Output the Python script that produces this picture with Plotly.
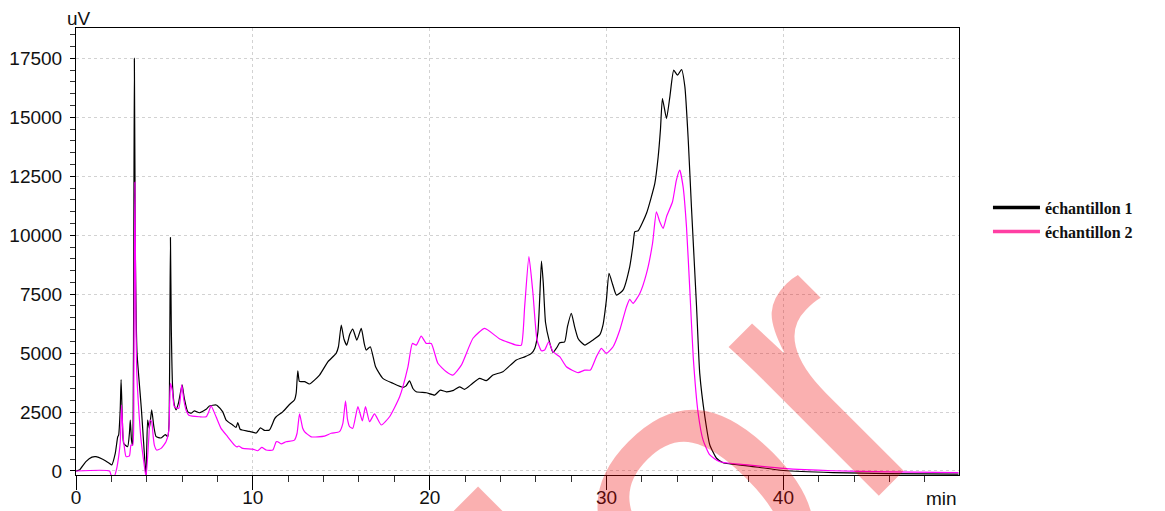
import plotly.graph_objects as go

# Retention times (min) and detector signal (uV) for each sample
t1 = [0.0, 0.19, 0.56, 0.9, 1.13, 1.51, 1.88, 2.02, 2.22, 2.36, 2.41, 2.5, 2.55, 2.62, 2.7, 2.92,
      3.02, 3.07, 3.14, 3.2, 3.25, 3.3, 3.36, 3.45, 3.55, 3.7, 3.85, 3.96, 4.05, 4.15, 4.28, 4.4,
      4.53, 4.81, 5.05, 5.19, 5.26, 5.3, 5.34, 5.39, 5.46, 5.56, 5.66, 5.8, 6.0, 6.12, 6.32, 6.51,
      6.69, 6.98, 7.36, 7.54, 7.92, 8.01, 8.3, 8.49, 8.86, 9.05, 9.15, 9.28, 9.39, 9.81, 10.19,
      10.43, 10.66, 10.94, 11.22, 11.32, 11.69, 12.07, 12.35, 12.45, 12.54, 12.63, 12.73, 12.93,
      13.2, 13.77, 14.24, 14.71, 14.84, 15.0, 15.15, 15.31, 15.48, 15.65, 15.88, 16.13, 16.3,
      16.41, 16.64, 16.94, 17.35, 17.92, 18.48, 18.65, 18.86, 19.05, 19.24, 19.81, 20.28, 20.6,
      20.94, 21.35, 21.69, 21.97, 22.4, 22.82, 23.2, 23.58, 24.14, 24.9, 25.4, 25.75, 25.94,
      26.12, 26.22, 26.32, 26.42, 26.55, 26.75, 26.97, 27.2, 27.35, 27.63, 27.79, 28.01, 28.2,
      28.39, 28.58, 28.77, 29.24, 29.61, 29.8, 29.99, 30.14, 30.35, 30.56, 30.93, 31.31, 31.5,
      31.6, 31.79, 32.26, 32.73, 32.92, 33.05, 33.16, 33.39, 33.58, 33.8, 34.01, 34.24, 34.43,
      34.62, 34.8, 35.09, 35.27, 35.56, 35.84, 36.22, 36.59, 38.1, 40.0, 42.8, 46.0, 49.9]
s1 = [0, 40, 400, 590, 610, 500, 330, 260, 750, 1450, 1520, 2600, 3880, 2200, 1170, 1030,
      1600, 2160, 1300, 1100, 5000, 17500, 9000, 5000, 4000, 2600, 900, -260, 2160, 1810, 2590, 1900,
      1455, 1400, 1540, 1455, 2000, 5000, 9900, 6000, 3600, 2800, 2590, 2900, 3650, 3100, 2510, 2450,
      2550, 2470, 2620, 2760, 2800, 2760, 2510, 2160, 1950, 1850, 2050, 1770, 1740, 1680, 1610,
      1830, 1720, 1740, 2200, 2300, 2510, 2820, 3010, 3300, 4250, 3800, 3790, 3790,
      3690, 4070, 4630, 4990, 5270, 6190, 5600, 5340, 5800, 6020, 5550, 6050, 5400,
      5130, 5270, 4420, 3930, 3720, 3550, 3600, 3820, 3500, 3360, 3320, 3220, 3430,
      3360, 3420, 3570, 3460, 3700, 3930, 3830, 4070, 4210, 4710, 4850, 4990, 5200,
      5900, 7300, 8900, 8000, 6300, 5550, 5030, 5250, 5440, 5480, 6120, 6690, 6100,
      5620, 5450, 5340, 5560, 5770, 6200, 7250, 8380, 7900, 7460, 7670, 8660, 9600,
      10150, 10190, 10930, 12200, 13330, 14500, 15800, 14950, 15870, 17000, 16790, 17030, 16290,
      14030, 11210, 6970, 4140, 2300, 1100, 540, 350, 210, 20, -70, -110, -130]

t2 = [0.0, 1.9, 1.98, 2.17, 2.3, 2.41, 2.5, 2.58, 2.66, 2.73, 2.83, 3.02, 3.11, 3.21, 3.27, 3.33,
      3.38, 3.43, 3.55, 3.68, 3.85, 3.96, 4.11, 4.19, 4.28, 4.36, 4.43, 4.56, 4.81, 5.09, 5.24,
      5.3, 5.34, 5.45, 5.56, 5.81, 5.98, 6.1, 6.22, 6.41, 6.98, 7.36, 7.5, 7.64, 7.92, 8.2, 8.58,
      8.96, 9.1, 9.2, 9.43, 9.99, 10.28, 10.5, 10.75, 11.13, 11.32, 11.41, 11.6, 11.88, 12.35,
      12.5, 12.64, 12.82, 12.92, 13.3, 14.05, 14.43, 14.9, 15.09, 15.24, 15.35, 15.47, 15.65,
      15.94, 16.19, 16.37, 16.6, 16.88, 17.26, 17.73, 18.3, 18.77, 19.02, 19.24, 19.52, 19.81,
      20.09, 20.46, 20.94, 21.31, 21.79, 22.45, 23.11, 23.96, 24.9, 25.18, 25.37, 25.61, 25.84,
      26.07, 26.32, 26.5, 26.73, 26.97, 27.35, 27.73, 28.39, 28.77, 29.09, 29.43, 29.71, 29.99,
      30.37, 30.75, 31.13, 31.31, 31.5, 31.88, 32.26, 32.6, 32.82, 33.01, 33.2, 33.39, 33.73,
      33.95, 34.14, 34.33, 34.52, 34.71, 34.9, 35.18, 35.46, 35.84, 36.41, 38.1, 40.0, 42.8,
      46.0, 49.9]
s2 = [0, 0, -170, -210, 100, 600, 1200, 2800, 1500, 1030, 610, 640, 1100, 1100, 4000, 12250,
      7000, 4300, 2600, 1310, 300, -260, 1310, 2160, 2090, 1500, 1100, 890, 960, 1240, 1670,
      3000, 3720, 3400, 2730, 2660, 3650, 3000, 2590, 2350, 2300, 2300, 2500, 2760, 2300, 1810, 1450,
      1100, 1020, 1060, 960, 930, 860, 1000, 890, 890, 1240, 1240, 1150, 1240, 1310,
      1600, 2420, 1810, 1670, 1450, 1480, 1600, 1670, 2020, 2980, 2200, 1880, 1810,
      2730, 2130, 2730, 2090, 2420, 1950, 2300, 3150, 4420, 5410, 5340, 5720, 5410,
      5410, 4570, 4210, 4070, 4490, 5630, 6050, 5600, 5340, 5340, 6970, 9090, 7530,
      5550, 5100, 5130, 5480, 5060, 4850, 4420, 4170, 4280, 4280, 4850, 5200, 4990,
      5270, 5980, 6970, 7280, 7110, 7530, 8380, 9650, 10990, 10570, 10290, 10780, 11420,
      12340, 12760, 12050, 10360, 7670, 4850, 2450, 1310, 680, 390, 250, 110, 10,
      -40, -70]

series_names = ["échantillon 1", "échantillon 2"]
trace_colors = ["#000000", "#ff00ff"]
legend_colors = ["#000000", "#ff3fa3"]
x_ticks = [0, 10, 20, 30, 40]
y_ticks = [0, 2500, 5000, 7500, 10000, 12500, 15000, 17500]

axis_font = dict(family="Liberation Sans, Arial, sans-serif", size=19, color="#111111")

fig = go.Figure()
for t, s, c in [(t1, s1, trace_colors[0]), (t2, s2, trace_colors[1])]:
    fig.add_trace(go.Scatter(x=t, y=s, mode="lines",
                             line=dict(color=c, width=1.2, shape="spline", smoothing=0.5),
                             showlegend=False, hoverinfo="skip"))

# Legend entries with thicker sample lines
for name, c in zip(series_names, legend_colors):
    fig.add_trace(go.Scatter(x=[None], y=[None], mode="lines", name=name,
                             line=dict(color=c, width=3.5)))

fig.update_xaxes(
    range=[0, 49.93], tickvals=x_ticks, ticks="outside", ticklen=14, tickwidth=1,
    tickcolor="#000", showline=True, linecolor="#000", linewidth=1, mirror=True,
    showgrid=True, gridcolor="#d2d2d2", griddash="dot", gridwidth=1, zeroline=False,
    tickfont=axis_font, automargin=False, ticklabelstandoff=-9,
    minor=dict(dtick=2, tick0=0, ticks="outside", ticklen=6, tickcolor="#333", showgrid=False),
)
fig.update_yaxes(
    range=[-170, 18790], tickvals=y_ticks, tickformat="d", ticks="outside", ticklen=5,
    tickwidth=1, tickcolor="#000", showline=True, linecolor="#000", linewidth=1, mirror=True,
    showgrid=True, gridcolor="#d2d2d2", griddash="dot", gridwidth=1, zeroline=False,
    tickfont=axis_font, ticklabelstandoff=4, automargin=False,
    minor=dict(dtick=500, tick0=0, ticks="outside", ticklen=5, tickcolor="#333", showgrid=False),
)

fig.update_layout(
    width=1165, height=511,
    margin=dict(l=76, r=206, t=28, b=36),
    paper_bgcolor="white", plot_bgcolor="white",
    legend=dict(x=1.0328, y=0.636, xanchor="left", yanchor="top",
                font=dict(family="Liberation Serif, Times New Roman, serif", size=16,
                          color="#111", weight="bold"),
                itemwidth=47, tracegroupgap=0, bgcolor="rgba(0,0,0,0)"),
    annotations=[
        dict(text="uV", xref="paper", yref="paper", x=-0.0125, y=1.0, xanchor="left",
             yanchor="bottom", showarrow=False, font=axis_font, yshift=-3),
        dict(text="min", xref="paper", yref="paper", x=1.0, y=0, xanchor="right",
             yanchor="top", showarrow=False, font=axis_font, yshift=-11),
        # watermark
        dict(text="lor", xref="paper", yref="paper", x=0.7045, y=-0.012,
             xanchor="center", yanchor="middle", showarrow=False, textangle=-45,
             font=dict(family="Liberation Sans, Arial, sans-serif", size=400,
                       color="rgba(240,0,0,0.31)")),
    ],
)

fig.write_html("out.html")
